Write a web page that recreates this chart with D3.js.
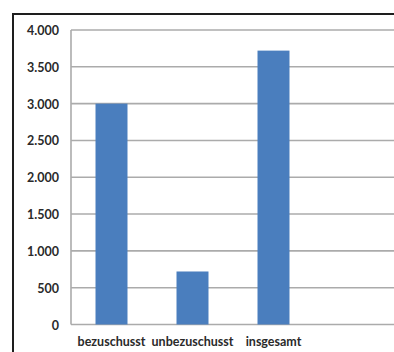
<!DOCTYPE html>
<html>
<head>
<meta charset="utf-8">
<script src="https://cdn.jsdelivr.net/npm/d3@7"></script>
<style>
  html, body { margin: 0; padding: 0; background: #fff; }
  svg { display: block; }
</style>
</head>
<body>
<svg id="chart" width="394" height="352"></svg>
<script>
// Förderstatus und Anzahl
const categories = ["bezuschusst", "unbezuschusst", "insgesamt"];
const values = [3000, 720, 3720];
const yTicks = [0, 500, 1000, 1500, 2000, 2500, 3000, 3500, 4000];

const W = 394, H = 352;
const plot = { left: 71, top: 30, bottom: 324.5, right: 400 };

const svg = d3.select("#chart");

// Frame round the chart
svg.append("rect")
  .attr("x", 13).attr("y", 14)
  .attr("width", W + 20).attr("height", H + 20)
  .attr("fill", "#fff")
  .attr("stroke", "#1e1e1e")
  .attr("stroke-width", 2);

const y = d3.scaleLinear().domain([0, 4000]).range([plot.bottom, plot.top]);
const x = d3.scaleBand()
  .domain(categories)
  .range([plot.left, plot.left + 3 * 81])
  .paddingInner(0.605)
  .paddingOuter(0.3025);

// Horizontal gridlines
svg.append("g")
  .selectAll("line")
  .data(yTicks)
  .join("line")
  .attr("x1", plot.left).attr("x2", plot.right)
  .attr("y1", d => y(d)).attr("y2", d => y(d))
  .attr("stroke", "#ababab")
  .attr("stroke-width", 1.6);

// Vertical axis line
svg.append("line")
  .attr("x1", plot.left).attr("x2", plot.left)
  .attr("y1", y(4000)).attr("y2", y(0))
  .attr("stroke", "#ababab")
  .attr("stroke-width", 1.6);

// Bars
svg.append("g")
  .selectAll("rect")
  .data(categories)
  .join("rect")
  .attr("x", d => x(d))
  .attr("width", x.bandwidth())
  .attr("y", (d, i) => y(values[i]))
  .attr("height", (d, i) => y(0) - y(values[i]))
  .attr("fill", "#4a7ebe");

// Y axis labels
const fmt = d3.formatLocale({ decimal: ",", thousands: ".", grouping: [3], currency: ["", " €"] }).format(",");
const yAxis = d3.axisLeft(y).tickValues(yTicks).tickFormat(fmt).tickSize(0).tickPadding(0);
const gy = svg.append("g")
  .attr("transform", `translate(${plot.left - 12},0)`)
  .call(yAxis);
gy.select(".domain").remove();
gy.selectAll("text")
  .attr("font-family", "Lato, 'Open Sans', sans-serif")
  .attr("font-size", 12.5)
  .attr("font-weight", "bold")
  .attr("fill", "#2a2a2a")
  .attr("dy", "0.36em");

// X axis labels
const xAxis = d3.axisBottom(x).tickSize(0).tickPadding(0);
const gx = svg.append("g")
  .attr("transform", `translate(0,${plot.bottom + 13})`)
  .call(xAxis);
gx.select(".domain").remove();
gx.selectAll("text")
  .attr("font-family", "Lato, 'Open Sans', sans-serif")
  .attr("font-size", 12.5)
  .attr("font-weight", "bold")
  .attr("fill", "#2a2a2a")
  .attr("dy", "0.71em");
</script>
</body>
</html>
